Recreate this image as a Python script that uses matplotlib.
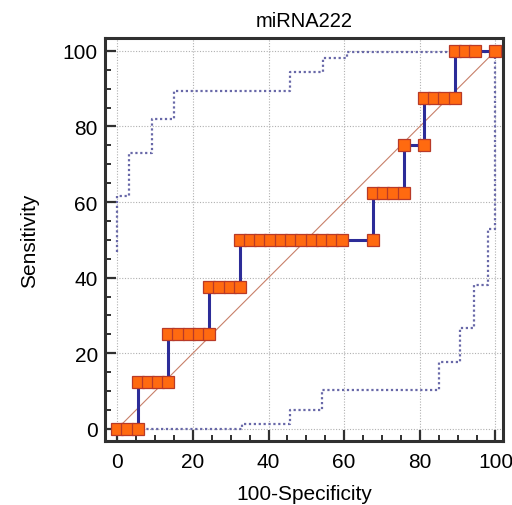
import matplotlib
matplotlib.use("Agg")
import matplotlib.pyplot as plt
from matplotlib.ticker import MultipleLocator

plt.rcParams['font.family'] = ['Liberation Sans', 'DejaVu Sans']

# ROC curve points (100-Specificity, Sensitivity)
roc_x = [0, 2.7, 5.4, 5.4, 8.1, 10.8, 13.5, 13.5, 16.2, 18.9, 21.6, 24.3,
         24.3, 27.0, 29.7, 32.4, 32.4, 35.1, 37.8, 40.5, 43.2, 45.9, 48.6,
         51.4, 54.1, 56.8, 59.5, 67.6, 67.6, 70.3, 73.0, 75.7, 75.7, 81.1,
         81.1, 83.8, 86.5, 89.2, 89.2, 91.9, 94.6, 100]
roc_y = [0, 0, 0, 12.5, 12.5, 12.5, 12.5, 25, 25, 25, 25, 25,
         37.5, 37.5, 37.5, 37.5, 50, 50, 50, 50, 50, 50, 50,
         50, 50, 50, 50, 50, 62.5, 62.5, 62.5, 62.5, 75, 75,
         87.5, 87.5, 87.5, 87.5, 100, 100, 100, 100]

# Confidence bounds (step curves)
upper_x = [0, 0, 3.2, 9.1, 14.9, 45.8, 54.5, 60.8, 100]
upper_y = [46.8, 61.6, 72.9, 81.9, 89.3, 94.5, 98.2, 99.7, 100]
lower_x = [0, 33.0, 45.6, 54.2, 85.0, 90.7, 94.2, 98.1, 100, 100]
lower_y = [0, 1.4, 4.9, 10.3, 17.8, 26.8, 38.1, 53.0, 100, 100]

title = "miRNA222"
xlabel = "100-Specificity"
ylabel = "Sensitivity"

fig = plt.figure(figsize=(5.12, 5.06), dpi=100)
ax = fig.add_axes([0.2045, 0.1265, 0.778, 0.7964])

band_color = '#6868a8'
ax.plot(upper_x, upper_y, drawstyle='steps-post', color=band_color,
        lw=1.6, linestyle=(0, (1, 1.2)), zorder=2)
ax.plot(lower_x, lower_y, drawstyle='steps-post', color=band_color,
        lw=1.6, linestyle=(0, (1, 1.2)), zorder=2)

ax.plot([0, 100], [0, 100], color='#c8806a', lw=0.8, zorder=3)

ax.plot(roc_x, roc_y, color='#2c2c98', lw=2.2, zorder=4)
ax.plot(roc_x, roc_y, linestyle='none', marker='s', markersize=8,
        markerfacecolor='#ff6a10', markeredgecolor='#b83a28',
        markeredgewidth=0.9, zorder=5)

ax.set_xlim(-3.3, 102)
ax.set_ylim(-3.2, 103.4)
ax.xaxis.set_major_locator(MultipleLocator(20))
ax.yaxis.set_major_locator(MultipleLocator(20))
ax.xaxis.set_minor_locator(MultipleLocator(5))
ax.yaxis.set_minor_locator(MultipleLocator(5))
ax.grid(True, which='major', color='#b0b0b0', linestyle=(0, (1, 1.5)), lw=0.8, zorder=0)

for s in ax.spines.values():
    s.set_linewidth(2.2)
    s.set_color('#303030')
ax.tick_params(which='major', direction='in', length=8, width=1.6, color='#303030',
               labelsize=15, pad=5)
ax.tick_params(which='minor', direction='in', length=4.5, width=1.4, color='#303030')
ax.tick_params(axis='x', which='major', pad=8)

ax.set_title(title, fontsize=14.5, pad=9)
ax.set_xlabel(xlabel, fontsize=15, labelpad=9)
ax.set_ylabel(ylabel, fontsize=15, labelpad=17)

fig.savefig("out.png", dpi=100)
